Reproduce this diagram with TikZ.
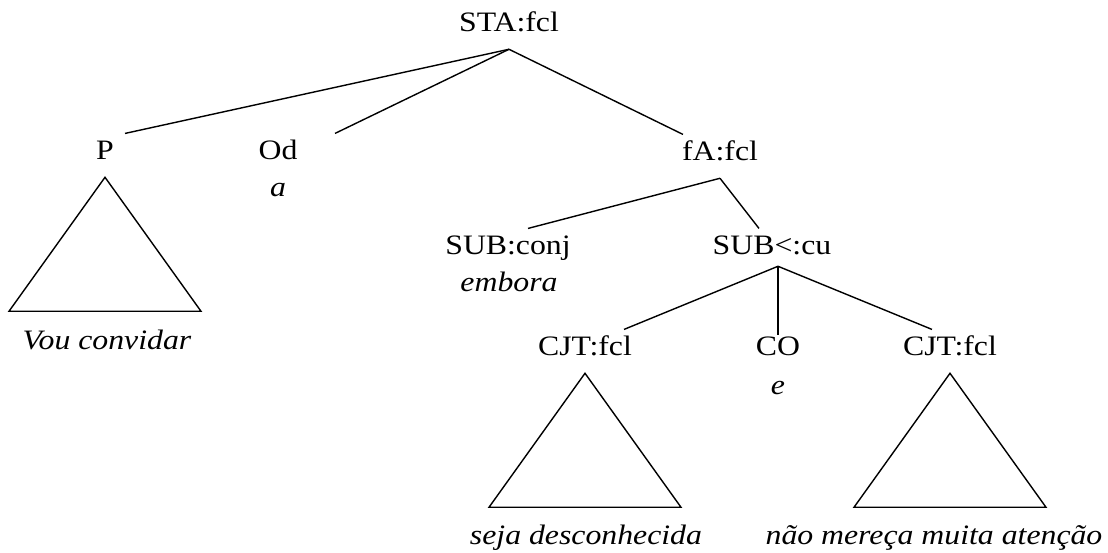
\documentclass[tikz,border=0pt]{standalone}
\usepackage{fontspec}
\setmainfont[FakeStretch=1.13]{Liberation Serif}

\begin{document}
\begin{tikzpicture}[
    font=\fontsize{20}{24}\selectfont,
    funcnode/.style={anchor=base,inner xsep=2pt,inner ysep=0.425cm,text height=0.66em,text depth=0pt},
    wordnode/.style={anchor=base,inner sep=0pt,font=\fontsize{20}{24}\selectfont\itshape},
    branch/.style={line width=1pt}]
  \useasboundingbox (0,0) rectangle (27.7,13.825);

  \node[funcnode] (sta) at (12.725,13.025) {STA:fcl};
  \node[funcnode] (p)   at (2.625,9.825) {P};
  \node[funcnode] (od)  at (6.95,9.825)  {Od};
  \node[funcnode] (fa)  at (18.0,9.8)    {fA:fcl};
  \node[funcnode] (sub) at (12.7,7.45)   {SUB:conj};
  \node[funcnode] (cu)  at (19.3,7.45)   {SUB<:cu};
  \node[funcnode] (cjta) at (14.625,4.925) {CJT:fcl};
  \node[funcnode] (co)   at (19.45,4.925)  {CO};
  \node[funcnode] (cjtb) at (23.75,4.925)  {CJT:fcl};

  \node[wordnode] (vou)    at (2.675,5.075) {Vou convidar};
  \node[wordnode] (a)      at (6.95,8.9)    {a};
  \node[wordnode] (embora) at (12.725,6.525) {embora};
  \node[wordnode] (e)      at (19.45,3.95)  {e};
  \node[wordnode] (seja)   at (14.65,0.2)   {seja desconhecida};
  \node[wordnode] (nao)    at (23.35,0.2)   {não mereça muita atenção};

  \coordinate (cufork) at ([xshift=0.15cm,yshift=0.15cm]cu.south);

  \draw[branch] (sta.south) -- ([xshift=0.5cm]p.north);
  \draw[branch] (sta.south) -- ([xshift=1.425cm]od.north);
  \draw[branch] (sta.south) -- ([xshift=-0.925cm]fa.north);
  \draw[branch] (fa.south) -- ([xshift=0.5cm]sub.north);
  \draw[branch] (fa.south) -- ([xshift=-0.325cm]cu.north);
  \draw[branch] (cufork) -- ([xshift=0.975cm]cjta.north);
  \draw[branch] (cufork) -- ([yshift=-0.15cm]co.north);
  \draw[branch] (cufork) -- ([xshift=-0.45cm]cjtb.north);

  \draw[branch] (p.south) -- ++(-2.4,-3.35) -- ++(4.8,0) -- cycle;
  \draw[branch] (cjta.south) -- ++(-2.4,-3.35) -- ++(4.8,0) -- cycle;
  \draw[branch] (cjtb.south) -- ++(-2.4,-3.35) -- ++(4.8,0) -- cycle;
\end{tikzpicture}
\end{document}
